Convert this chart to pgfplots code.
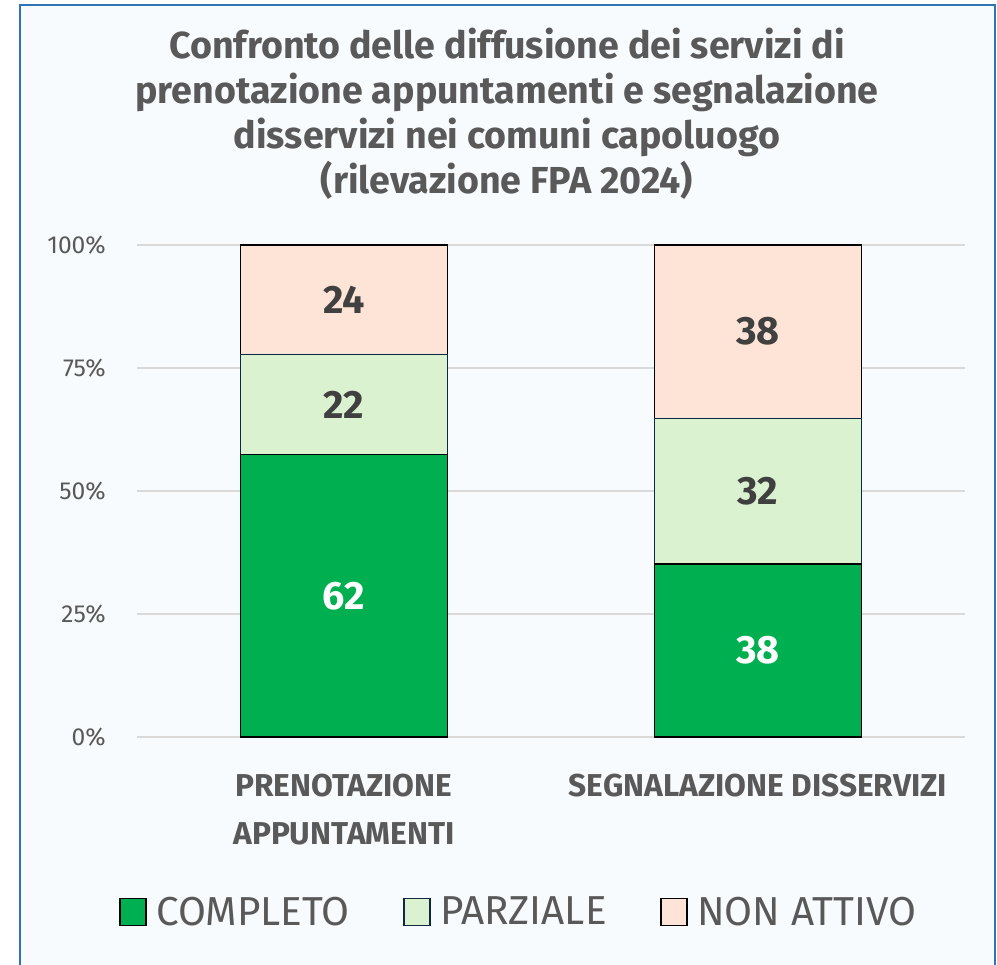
\documentclass[border=0pt]{standalone}
\usepackage{fontspec}
\setmainfont{Fira Sans}
\usepackage{pgfplots}
\usepackage{pgfplotstable}
\pgfplotsset{compat=1.18}

\definecolor{frameblue}{HTML}{2E75B6}
\definecolor{bgpanel}{HTML}{F7FBFD}
\definecolor{txtgray}{HTML}{595959}
\definecolor{lbldark}{HTML}{404040}
\definecolor{gridgray}{HTML}{D9D9D9}
\definecolor{cCompleto}{HTML}{00AF50}
\definecolor{cParziale}{HTML}{DAF2D0}
\definecolor{cNonAttivo}{HTML}{FDE4D6}
\definecolor{edgeNavy}{HTML}{0E2841}

% numero di comuni capoluogo per stato del servizio (totale 108)
\pgfplotstableread{
x completo parziale nonattivo
0 62 22 24
1 38 32 38
}\servizi

\newcommand{\quota}[1]{(100*\thisrow{#1}/(\thisrow{completo}+\thisrow{parziale}+\thisrow{nonattivo}))}

\pgfplotsset{
  pannello/.style={
    at={(2.74cm,4.54cm)}, anchor=south west,
    scale only axis, width=16.56cm, height=9.84cm,
    xmin=-0.5, xmax=1.5, ymin=0, ymax=100,
  }
}

\begin{document}
\begin{tikzpicture}
\begin{scope}[x=0.02cm,y=0.02cm]
  \useasboundingbox (0,0) rectangle (997,964);
  \fill[white] (0,0) rectangle (997,964);
  \filldraw[fill=bgpanel, draw=frameblue, line width=1.1pt] (20,-20) rectangle (995,959);
  \node[text=txtgray, font=\bfseries\fontsize{21.4}{25.6}\selectfont, align=center]
    at (507,850) {Confronto delle diffusione dei servizi di\\prenotazione appuntamenti e segnalazione\\disservizi nei comuni capoluogo\\(rilevazione FPA 2024)};
\end{scope}

\begin{axis}[
    pannello,
    ybar stacked, bar width=4.14cm,
    axis line style={draw=none},
    major tick length=0pt,
    ymajorgrids, grid style={gridgray, line width=1.1pt},
    ytick={0,25,50,75,100},
    yticklabel={\pgfmathprintnumber{\tick}\%},
    yticklabel style={text=txtgray, font=\fontsize{14}{14}\selectfont, xshift=-0.5cm},
    xtick={0,1},
    xticklabels={PRENOTAZIONE\\APPUNTAMENTI, SEGNALAZIONE DISSERVIZI},
    xticklabel style={text=txtgray, font=\bfseries\fontsize{18}{27}\selectfont, align=center, anchor=north, yshift=-0.62cm},
    /pgf/number format/assume math mode=true,
    legend style={at={(0.462,-0.356)}, anchor=center, legend columns=3, draw=none, fill=none,
        font=\fontsize{23}{23}\selectfont, text=txtgray,
        /tikz/every odd column/.append style={column sep=0.12cm},
        /tikz/every even column/.append style={column sep=1.0cm}},
    legend image code/.code={\draw[#1, line width=0.9pt] (0cm,-0.27cm) rectangle (0.52cm,0.27cm);},
    clip=false,
]
\addplot[fill=cCompleto, draw=black, line width=0.8pt]
    table[x=x, y expr=\quota{completo}] {\servizi};
\addplot[fill=cParziale, draw=edgeNavy, line width=0.8pt]
    table[x=x, y expr=\quota{parziale}] {\servizi};
\addplot[fill=cNonAttivo, draw=black, line width=0.8pt]
    table[x=x, y expr=\quota{nonattivo}] {\servizi};
\legend{COMPLETO, PARZIALE, NON ATTIVO}
\end{axis}

% etichette dei valori al centro di ogni segmento
\begin{axis}[
    pannello, hide axis,
    point meta=explicit,
    nodes near coords,
    /pgf/number format/assume math mode=true,
    every node near coord/.append style={anchor=center, font=\bfseries\fontsize{22.5}{22.5}\selectfont, text=lbldark},
]
\addplot[draw=none, mark=none, every node near coord/.append style={text=white}]
    table[x=x, y expr=\quota{completo}/2, meta=completo] {\servizi};
\addplot[draw=none, mark=none]
    table[x=x, y expr=\quota{completo}+\quota{parziale}/2, meta=parziale] {\servizi};
\addplot[draw=none, mark=none]
    table[x=x, y expr=100-\quota{nonattivo}/2, meta=nonattivo] {\servizi};
\end{axis}
\end{tikzpicture}
\end{document}
